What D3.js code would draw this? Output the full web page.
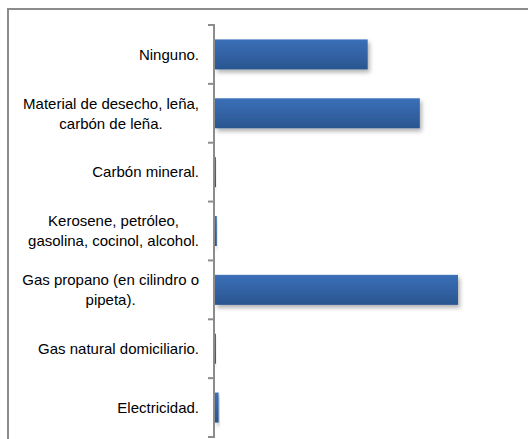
<!DOCTYPE html>
<html><head><meta charset="utf-8">
<script src="https://cdn.jsdelivr.net/npm/d3@7"></script>
<style>html,body{margin:0;padding:0;background:#fff;}svg{display:block;}</style>
</head><body>
<svg id="c" width="528" height="439"></svg>
<script>
const categories = [
  ["Ninguno."],
  ["Material de desecho, leña,", "carbón de leña."],
  ["Carbón mineral."],
  ["Kerosene, petróleo,", "gasolina, cocinol, alcohol."],
  ["Gas propano (en cilindro o", "pipeta)."],
  ["Gas natural domiciliario."],
  ["Electricidad."]
];
const values = [25.2, 33.8, 0.1, 0.3, 40.1, 0.1, 0.6];

const svg = d3.select("#c");
const defs = svg.append("defs");
const g1 = defs.append("linearGradient").attr("id","bg").attr("x1",0).attr("y1",0).attr("x2",0).attr("y2",1);
g1.append("stop").attr("offset","0%").attr("stop-color","#3b70b9");
g1.append("stop").attr("offset","100%").attr("stop-color","#2a558f");
const f = defs.append("filter").attr("id","sh").attr("x","-10%").attr("y","-20%").attr("width","130%").attr("height","160%");
f.append("feDropShadow").attr("dx",2).attr("dy",3).attr("stdDeviation",2).attr("flood-color","#000").attr("flood-opacity",0.3);

// chart frame
svg.append("path").attr("d","M8,440 V9 H530").attr("fill","none").attr("stroke","#8c8c8c").attr("stroke-width",2);

const x0 = 215, y0 = 25, y1 = 437;
const x = d3.scaleLinear().domain([0,100]).range([x0, x0 + 606]);
const y = d3.scaleBand().domain(d3.range(categories.length)).range([y0, y1]).paddingInner(0.49).paddingOuter(0.245);

// bars
svg.append("g").selectAll("rect").data(values).join("rect")
  .attr("x", x(0))
  .attr("y", (d,i)=>y(i))
  .attr("width", d=>Math.max(1, x(d)-x(0)))
  .attr("height", y.bandwidth())
  .attr("fill","url(#bg)")
  .attr("filter","url(#sh)");

// axis
const step = (y1 - y0) / categories.length;
const ax = svg.append("g").attr("stroke","#8c8c8c").attr("stroke-width",2);
ax.append("line").attr("x1",214).attr("x2",214).attr("y1",y0).attr("y2",y1);
d3.range(categories.length+1).forEach(i=>{
  ax.append("line").attr("x1",208).attr("x2",215).attr("y1",y0+i*step).attr("y2",y0+i*step);
});

// labels
const lg = svg.append("g").attr("font-family","'Liberation Sans', Arial, sans-serif").attr("font-size","15px").attr("fill","#000");
categories.forEach((lines,i)=>{
  const cy = y(i) + y.bandwidth()/2;
  const lh = 20;
  const texts = lines.map((t,k)=>lg.append("text").text(t)
     .attr("text-anchor","middle")
     .attr("y", cy + (k - (lines.length-1)/2)*lh)
     .attr("dy","0.35em"));
  const w = d3.max(texts, t=>t.node().getComputedTextLength());
  texts.forEach(t=>t.attr("x", 199 - w/2));
});
</script>
</body></html>
